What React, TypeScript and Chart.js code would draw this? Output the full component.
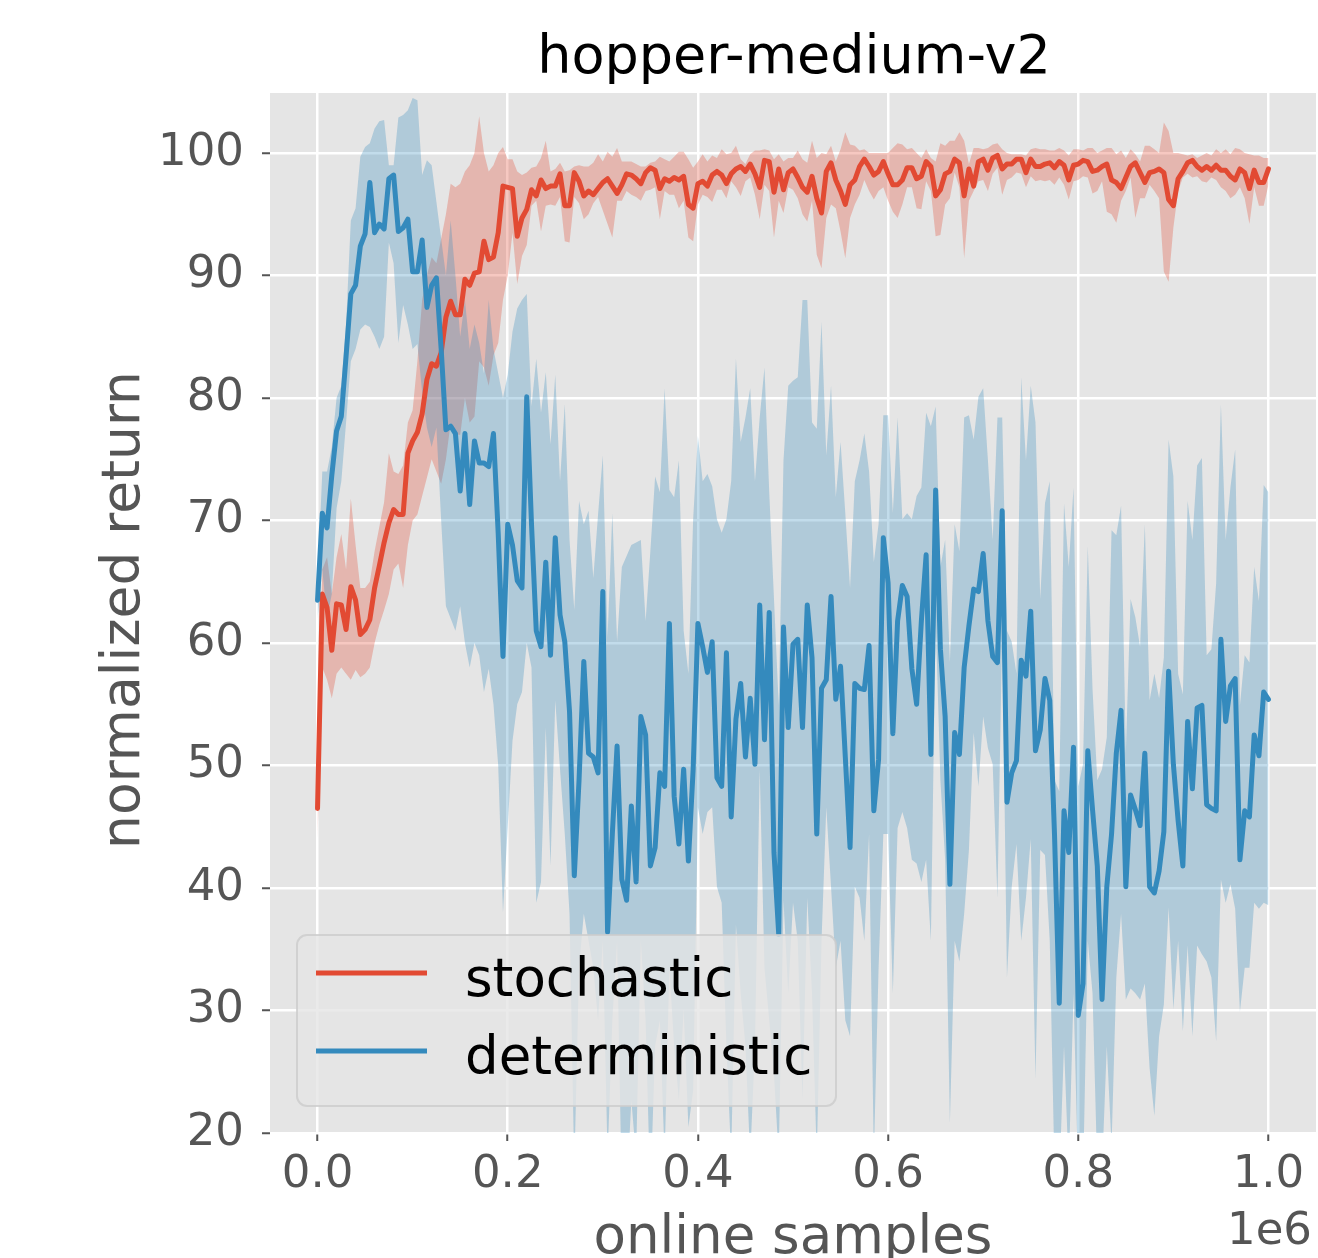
import React, { useEffect, useRef } from "react";
import { Chart, registerables } from "chart.js";

Chart.register(...registerables);

// x axis: online samples, one evaluation every STEP samples
const STEP = 5000;

const xTicks = [0, 200000, 400000, 600000, 800000, 1000000];
const yTicks = [20, 30, 40, 50, 60, 70, 80, 90, 100];

const stochasticMean = [
  46.5, 64.0, 62.9, 59.4, 63.2, 63.1, 61.1, 64.6, 63.5, 60.7,
  61.1, 61.9, 64.5, 66.3, 68.2, 69.8, 70.9, 70.5, 70.5, 75.5,
  76.5, 77.2, 78.7, 81.5, 82.8, 82.6, 83.7, 86.6, 87.9, 86.8,
  86.8, 89.7, 89.2, 90.2, 90.3, 92.8, 91.3, 91.5, 93.5, 97.3,
  97.2, 97.1, 93.2, 94.7, 95.4, 97.0, 96.5, 97.8, 97.1, 97.3,
  97.3, 98.3, 95.7, 95.7, 98.4, 97.7, 96.5, 96.9, 96.6, 97.1,
  97.6, 97.9, 97.3, 96.7, 97.4, 98.3, 98.2, 97.9, 97.5, 98.4,
  98.8, 98.6, 97.1, 97.9, 97.7, 98.0, 97.8, 98.1, 95.8, 95.5,
  97.5, 97.7, 97.3, 98.2, 98.5, 98.2, 97.5, 98.3, 98.7, 98.9,
  98.5, 99.1, 98.3, 97.2, 99.4, 99.3, 96.8, 98.7, 97.0, 98.4,
  98.7, 98.0, 97.2, 96.8, 98.1, 96.3, 95.1, 98.5, 99.2, 97.8,
  96.9, 95.8, 97.4, 97.8, 98.9, 99.5, 98.9, 98.2, 98.5, 99.3,
  98.3, 97.4, 97.4, 97.8, 98.8, 98.8, 97.9, 98.1, 99.3, 98.9,
  96.5, 97.0, 98.3, 98.5, 99.5, 99.2, 96.5, 98.7, 97.3, 99.3,
  99.5, 98.6, 99.6, 99.8, 98.7, 99.1, 99.1, 99.5, 99.5, 98.4,
  99.5, 98.9, 98.9, 99.1, 99.2, 98.8, 99.3, 99.0, 97.8, 99.0,
  99.1, 99.4, 99.3, 98.5, 98.6, 98.9, 99.1, 97.8, 97.6, 97.1,
  98.0, 98.9, 99.2, 98.4, 97.6, 98.4, 98.5, 98.7, 98.4, 96.2,
  95.7, 97.9, 98.5, 99.2, 99.4, 98.9, 98.6, 98.9, 98.6, 99.0,
  98.6, 98.6, 98.1, 97.8, 98.7, 98.4, 97.1, 98.6, 97.6, 97.6,
  98.7,
];

const stochasticLow = [
  44, 58, 57, 55.5, 57.5, 58, 57.5, 57, 57.8, 57.2,
  57.5, 58, 60, 61.5, 62.7, 64, 66, 66.5, 64.5, 68,
  70, 70.5, 72, 73.5, 75, 74, 73, 75, 78, 77,
  77, 80, 78, 78.5, 83, 82.5, 81, 83.5, 84.5, 88,
  90, 93.5, 89.3, 91.6, 92.5, 95.7, 96.1, 93.6, 95.7, 95.8,
  95.7, 96.4, 92.8, 92.7, 96.4, 95.9, 94.6, 95.0, 95.9, 96.4,
  95.3, 94.2, 93.1, 96.1, 96.1, 96.9, 96.6, 96.4, 96.1, 96.9,
  97.0, 97.2, 94.6, 96.9, 96.6, 96.6, 95.5, 96.1, 93.1, 92.8,
  95.8, 96.6, 96.4, 96.0, 97.0, 97.0, 96.3, 97.7, 97.2, 96.5,
  97.7, 98.0, 96.6, 94.6, 97.4, 96.9, 93.1, 96.1, 95.1, 97.2,
  97.0, 96.3, 95.0, 94.4, 96.1, 91.7, 90.6, 94.7, 95.8, 95.5,
  93.6, 91.4, 94.7, 95.8, 96.6, 97.8, 96.9, 96.2, 96.9, 97.2,
  96.1, 95.2, 94.7, 95.8, 97.2, 97.2, 95.5, 95.4, 97.7, 96.9,
  93.2, 93.3, 95.8, 96.3, 98.4, 97.2, 91.4, 96.1, 96.9, 97.7,
  97.8, 96.9, 98.3, 98.8, 96.6, 97.8, 98.0, 98.4, 98.3, 97.2,
  98.1, 97.7, 97.8, 97.7, 97.8, 97.4, 98.0, 97.4, 96.2, 97.7,
  97.8, 98.1, 98.0, 96.7, 96.9, 97.7, 95.2, 95.0, 94.3, 96.1,
  96.9, 98.0, 94.7, 96.3, 96.3, 97.4, 96.9, 96.3, 90.3, 89.5,
  93.9, 96.9, 98.0, 98.3, 98.0, 98.1, 97.7, 97.6, 98.0, 97.8,
  97.2, 96.9, 96.3, 96.6, 97.2, 96.3, 94.2, 97.2, 95.7, 95.7,
  97.4,
];

const stochasticHigh = [
  49, 66, 67, 64, 67, 68.9, 66, 71.8, 68, 64.5,
  64.5, 65, 67.5, 69.5, 71.5, 75.5, 74, 73.8, 74.5, 78,
  79, 83, 88, 90, 91.5, 91, 93, 95, 97.5, 97.2,
  97.5, 98.5, 99, 100, 103, 100, 98.5, 99, 100, 100.5,
  99.5, 99.5, 98.5, 98.2, 98.4, 98.8, 98.9, 99.6, 101.0, 98.5,
  98.7, 99.2, 98.5, 98.6, 98.9, 99.0, 98.9, 98.9, 99.2, 99.9,
  99.3, 100.1, 99.7, 100.4, 99.3, 99.3, 99.3, 99.1, 98.9, 98.9,
  99.2, 99.3, 99.7, 99.5, 99.3, 99.7, 100.1, 100.1, 99.5, 98.8,
  99.3, 99.9, 99.3, 99.8, 99.6, 100.3, 99.9, 100.0, 100.6, 99.5,
  99.1, 99.9, 100.2, 100.2, 100.3, 100.2, 99.5, 99.9, 99.3, 99.6,
  99.6, 100.2, 99.5, 99.2, 101.0, 99.6, 100.0, 99.9, 100.6, 99.3,
  100.3, 101.7, 100.7, 100.6, 100.2, 100.3, 100.0, 100.0, 100.0, 100.0,
  100.0, 100.4, 100.8, 100.7, 100.3, 100.4, 100.0, 99.6, 100.3, 99.6,
  99.3, 100.8, 100.6, 101.0, 101.0, 101.7, 101.0, 99.1, 100.4, 100.4,
  100.3, 100.4, 100.7, 100.8, 100.3, 100.0, 99.9, 99.9, 99.9, 99.8,
  100.3, 100.4, 100.3, 100.3, 100.2, 100.2, 100.4, 100.2, 99.8, 100.3,
  100.3, 100.2, 100.4, 100.4, 100.0, 100.2, 100.4, 100.4, 99.9, 100.2,
  99.6, 100.3, 99.9, 99.3, 100.6, 100.6, 100.3, 100.0, 102.5, 101.8,
  100.0, 100.0, 99.9, 99.8, 99.9, 99.6, 99.8, 100.0, 99.8, 100.3,
  100.0, 100.3, 99.9, 100.4, 100.3, 100.0, 99.9, 99.8, 99.8, 99.6,
  99.6,
];

const deterministicMean = [
  63.5, 70.6, 69.4, 73.7, 77.3, 78.5, 83.4, 88.5, 89.2, 92.4,
  93.4, 97.6, 93.5, 94.2, 93.8, 97.9, 98.2, 93.6, 93.9, 94.6,
  90.3, 90.3, 92.9, 87.4, 89.2, 89.8, 84.0, 77.4, 77.7, 77.1,
  72.4, 77.1, 71.3, 76.5, 74.7, 74.7, 74.4, 77.1, 68.9, 58.9,
  69.7, 68.0, 65.1, 64.5, 80.1, 69.7, 61.0, 59.7, 66.6, 59.0,
  68.6, 62.3, 60.1, 54.4, 41.0, 48.8, 58.5, 51.0, 50.7, 49.4,
  64.2, 36.4, 44.4, 51.6, 40.7, 39.0, 46.7, 40.5, 54.0, 52.5,
  41.8, 43.3, 49.4, 48.3, 61.6, 47.5, 43.6, 49.7, 42.2, 49.7,
  61.6, 59.7, 57.6, 60.1, 49.0, 48.3, 59.2, 45.8, 53.8, 56.7,
  50.7, 55.5, 50.1, 63.1, 52.1, 62.5, 42.9, 36.2, 61.3, 53.1,
  59.9, 60.3, 53.1, 63.1, 58.8, 44.4, 56.3, 57.0, 63.8, 55.4,
  58.1, 50.7, 43.3, 56.7, 56.3, 56.2, 59.8, 46.3, 50.5, 68.6,
  64.9, 52.6, 61.8, 64.7, 63.8, 57.9, 55.0, 61.8, 67.2, 50.9,
  72.5, 59.5, 54.0, 40.3, 52.7, 50.9, 58.0, 61.4, 64.4, 64.2,
  67.3, 61.8, 58.9, 58.4, 70.8, 47.0, 49.4, 50.4, 58.6, 57.3,
  62.6, 51.2, 52.9, 57.1, 55.3, 44.4, 30.6, 46.3, 42.9, 51.5,
  29.6, 32.2, 51.2, 46.4, 41.8, 30.9, 40.1, 44.4, 51.0, 54.5,
  40.1, 47.6, 46.4, 45.1, 51.0, 40.1, 39.6, 41.4, 44.6, 57.7,
  50.1, 45.5, 41.8, 53.6, 48.1, 54.7, 54.9, 46.8, 46.5, 46.3,
  60.3, 53.6, 56.5, 57.1, 42.3, 46.3, 45.8, 52.5, 50.8, 56.0,
  55.4,
];

const deterministicLow = [
  62, 66, 62, 64, 71, 73.2, 78, 83, 84, 85.6,
  86, 85.8, 85, 84, 85, 92.7, 91, 84.5, 87.6, 86,
  84, 84.4, 80.5, 77.6, 76, 77.6, 70, 63, 62, 61,
  63, 60, 58, 60, 59, 56, 57.9, 55, 50, 38,
  45, 52, 55, 56, 60, 58, 38.8, 40.5, 53.1, 41.8,
  55.3, 49.7, 44.4, 37.9, 17, 33.5, 37.9, 35.7, 33.5, 29.2,
  35.7, 18, 29.2, 35.7, 15, 15, 22.7, 18, 35.7, 29.2,
  15, 27.1, 29.2, 18, 33.5, 27.1, 22.7, 30.1, 20.5, 23.5,
  46.6, 44.4, 46.2, 46.6, 40.1, 38.8, 27.1, 18, 37.0, 31.4,
  27.1, 18, 27.1, 49.7, 33.5, 29.2, 24.8, 18, 39.0, 31.4,
  38.8, 35.7, 22.7, 39.2, 31.4, 18, 35.7, 46.6, 40.1, 33.5,
  35.7, 29.2, 27.9, 40.1, 39.2, 35.7, 44.4, 18, 33.5, 44.4,
  44.4, 31.4, 44.9, 46.2, 44.9, 42.3, 42.0, 40.5, 42.3, 35.7,
  62, 48.8, 42.3, 20.8, 35.7, 34.0, 37.9, 43.1, 52.7, 48.3,
  54.0, 51.4, 50.1, 39.2, 61.2, 32.7, 40.1, 43.6, 35.7, 39.2,
  44.0, 24.4, 43.1, 42.7, 35.7, 17, 16, 27.1, 17, 31.4,
  16, 16, 35.7, 31.4, 17, 17, 27.1, 19, 32.7, 37.9,
  30.9, 31.8, 31.4, 30.9, 32.2, 25.3, 21.4, 27.9, 30.5, 38.4,
  30.1, 35.7, 28.3, 35.3, 27.9, 35.3, 34.6, 34.0, 32.7, 27.5,
  40.7, 38.8, 40.3, 38.3, 29.9, 33.5, 33.5, 38.8, 38.3, 38.8,
  38.6,
];

const deterministicHigh = [
  65, 74, 74, 76, 80, 81, 86, 94.5, 95.5, 99.7,
  100.5, 100.8, 102, 102.6, 102.7, 99, 99, 102.9, 103.1, 103.5,
  104.5, 104.3, 98.2, 99.4, 99, 96, 93, 90, 94.5, 90,
  85, 88, 84, 86, 84.5, 82, 88, 84, 82, 80,
  81.9, 85.4, 87.3, 88.0, 88.5, 79.3, 83.2, 78.8, 82.1, 76.2,
  81.9, 73.2, 79.5, 68.4, 62.7, 71.6, 69.7, 70.8, 65.3, 70.5,
  75.3, 60.5, 70.6, 60.1, 66.2, 67.1, 68.0, 68.2, 68.4, 61.8,
  67.5, 73.6, 72.3, 80.8, 72.5, 71.9, 74.9, 61.0, 57.5, 70.1,
  76.9, 73.2, 73.8, 72.8, 70.1, 69.0, 70.1, 73.2, 83.2, 76.4,
  78.4, 80.8, 73.2, 78.4, 82.5, 72.3, 63.6, 54.9, 74.9, 81.0,
  81.4, 81.7, 88.0, 88.0, 78.0, 77.5, 86.2, 75.3, 81.0, 71.9,
  76.4, 70.6, 64.5, 73.2, 74.9, 77.1, 74.0, 66.6, 69.7, 78.6,
  78.6, 70.6, 78.4, 70.1, 70.6, 70.1, 72.0, 72.7, 78.8, 77.7,
  79.3, 66.2, 68.4, 58.4, 69.7, 67.5, 78.4, 78.6, 76.6, 80.1,
  80.8, 74.9, 68.4, 78.4, 78.4, 61.0, 60.1, 57.5, 81.7, 74.9,
  81.0, 78.0, 63.6, 71.4, 73.2, 48.8, 47.9, 71.4, 66.2, 72.7,
  48.3, 50.1, 67.9, 56.2, 48.8, 49.7, 52.3, 69.2, 68.8, 71.2,
  51.0, 63.6, 62.1, 59.7, 69.7, 55.3, 57.5, 55.5, 58.8, 76.6,
  73.6, 57.5, 55.8, 71.6, 68.4, 74.5, 75.1, 59.0, 59.5, 64.9,
  79.5, 68.4, 72.7, 75.8, 54.9, 59.0, 58.4, 66.2, 63.4, 72.9,
  72.3,
];

const TITLE = "hopper-medium-v2";
const X_LABEL = "online samples";
const Y_LABEL = "normalized return";
const X_OFFSET_TEXT = "1e6";
const SERIES_NAMES = ["stochastic", "deterministic"];

const RED = "#E24A33";
const BLUE = "#348ABD";
const RED_BAND = "rgba(226,74,51,0.3)";
const BLUE_BAND = "rgba(52,138,189,0.3)";
const FONT = "'DejaVu Sans', 'Noto Sans', sans-serif";

function roundRect(ctx: CanvasRenderingContext2D, x: number, y: number, w: number, h: number, r: number) {
  ctx.beginPath();
  ctx.moveTo(x + r, y);
  ctx.lineTo(x + w - r, y);
  ctx.arcTo(x + w, y, x + w, y + r, r);
  ctx.lineTo(x + w, y + h - r);
  ctx.arcTo(x + w, y + h, x + w - r, y + h, r);
  ctx.lineTo(x + r, y + h);
  ctx.arcTo(x, y + h, x, y + h - r, r);
  ctx.lineTo(x, y + r);
  ctx.arcTo(x, y, x + r, y, r);
  ctx.closePath();
}

const decorPlugin = {
  id: "decor",
  beforeDraw(chart: any) {
    const { ctx, chartArea } = chart;
    ctx.save();
    ctx.fillStyle = "#E5E5E5";
    ctx.fillRect(chartArea.left, chartArea.top, chartArea.right - chartArea.left, chartArea.bottom - chartArea.top);
    ctx.restore();
  },
  afterDraw(chart: any) {
    const { ctx, chartArea } = chart;
    const cx = (chartArea.left + chartArea.right) / 2;
    const cy = (chartArea.top + chartArea.bottom) / 2;
    ctx.save();
    // title
    ctx.fillStyle = "#000";
    ctx.font = `54px ${FONT}`;
    ctx.textAlign = "center";
    ctx.textBaseline = "alphabetic";
    ctx.fillText(TITLE, cx + 1, 73);
    // x label
    ctx.fillStyle = "#555555";
    ctx.font = `53px ${FONT}`;
    ctx.fillText(X_LABEL, cx, 1253);
    // y label
    ctx.save();
    ctx.translate(139, cy - 3);
    ctx.rotate(-Math.PI / 2);
    ctx.font = `53.5px ${FONT}`;
    ctx.fillText(Y_LABEL, 0, 0);
    ctx.restore();
    // offset text
    ctx.font = `45px ${FONT}`;
    ctx.textAlign = "right";
    ctx.fillText(X_OFFSET_TEXT, 1312, 1244);

    // legend
    const lx = 297, ly = 935, lw = 539, lh = 171;
    roundRect(ctx, lx, ly, lw, lh, 10);
    ctx.fillStyle = "rgba(229,229,229,0.8)";
    ctx.fill();
    ctx.strokeStyle = "rgba(204,204,204,0.8)";
    ctx.lineWidth = 2;
    ctx.stroke();
    const rows = [
      { color: RED, y: 973, name: SERIES_NAMES[0] },
      { color: BLUE, y: 1051, name: SERIES_NAMES[1] },
    ];
    ctx.font = `53px ${FONT}`;
    ctx.textAlign = "left";
    ctx.textBaseline = "alphabetic";
    for (const r of rows) {
      ctx.strokeStyle = r.color;
      ctx.lineWidth = 5;
      ctx.beginPath();
      ctx.moveTo(316, r.y);
      ctx.lineTo(427, r.y);
      ctx.stroke();
      ctx.fillStyle = "#000";
      ctx.fillText(r.name, 465, r.y + 23);
    }
    ctx.restore();
  },
};

export default function App() {
  const ref = useRef<HTMLCanvasElement | null>(null);

  useEffect(() => {
    if (!ref.current) return;
    const samples = stochasticMean.map((_, i) => i * STEP);
    const pts = (arr: number[]) => arr.map((v, i) => ({ x: samples[i], y: v }));
    const common = { pointRadius: 0, pointHoverRadius: 0, tension: 0, spanGaps: true };

    const chart = new Chart(ref.current, {
      type: "line",
      data: {
        datasets: [
          { ...common, label: "stochastic low", data: pts(stochasticLow), borderWidth: 0, borderColor: "transparent", fill: false, order: 5 },
          { ...common, label: "stochastic high", data: pts(stochasticHigh), borderWidth: 0, borderColor: "transparent", backgroundColor: RED_BAND, fill: "-1", order: 4 },
          { ...common, label: "deterministic low", data: pts(deterministicLow), borderWidth: 0, borderColor: "transparent", fill: false, order: 3 },
          { ...common, label: "deterministic high", data: pts(deterministicHigh), borderWidth: 0, borderColor: "transparent", backgroundColor: BLUE_BAND, fill: "-1", order: 2 },
          { ...common, label: SERIES_NAMES[0], data: pts(stochasticMean), borderColor: RED, borderWidth: 5, fill: false, order: 1, borderJoinStyle: "round", borderCapStyle: "round" },
          { ...common, label: SERIES_NAMES[1], data: pts(deterministicMean), borderColor: BLUE, borderWidth: 5, fill: false, order: 0, borderJoinStyle: "round", borderCapStyle: "round" },
        ] as any,
      },
      options: {
        responsive: false,
        animation: false,
        devicePixelRatio: 1,
        events: [],
        layout: { padding: { left: 0, right: 2, top: 93, bottom: 0 } },
        plugins: {
          legend: { display: false },
          title: { display: false },
          tooltip: { enabled: false },
        },
        scales: {
          x: {
            type: "linear",
            min: -50000,
            max: 1050000,
            afterBuildTicks: (s: any) => { s.ticks = xTicks.map((v) => ({ value: v })); },
            afterFit: (s: any) => { s.height = 125; },
            ticks: {
              autoSkip: false,
              maxRotation: 0,
              minRotation: 0,
              padding: 7,
              color: "#555555",
              font: { family: FONT, size: 45 },
              callback: (v: any) => (Number(v) / 1e6).toFixed(1),
            },
            grid: { color: "#FFFFFF", lineWidth: 2.5, tickColor: "#555555", tickLength: 8, tickWidth: 2 },
            border: { display: false },
          },
          y: {
            type: "linear",
            min: 20,
            max: 104.9,
            afterBuildTicks: (s: any) => { s.ticks = yTicks.map((v) => ({ value: v })); },
            afterFit: (s: any) => { s.width = 270; },
            ticks: {
              autoSkip: false,
              padding: 18,
              color: "#555555",
              font: { family: FONT, size: 45 },
              callback: (v: any) => String(v),
            },
            grid: { color: "#FFFFFF", lineWidth: 2.5, tickColor: "#555555", tickLength: 8, tickWidth: 2 },
            border: { display: false },
          },
        },
      } as any,
      plugins: [decorPlugin],
    });
    return () => chart.destroy();
  }, []);

  return (
    <div style={{ position: "absolute", left: 0, top: 0, width: 1318, height: 1258, background: "#fff" }}>
      <canvas ref={ref} width={1318} height={1258} style={{ display: "block", width: 1318, height: 1258 }} />
    </div>
  );
}
